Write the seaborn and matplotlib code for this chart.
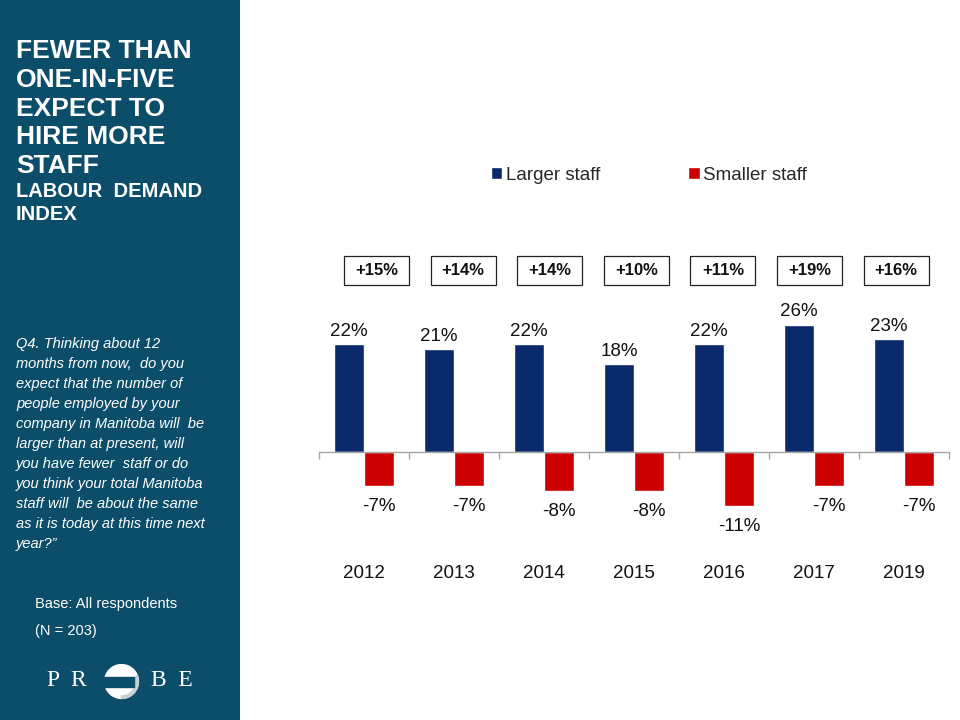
import matplotlib
matplotlib.use("Agg")
import matplotlib.pyplot as plt
import matplotlib.transforms as mtransforms
from matplotlib.patches import Rectangle, Circle, Wedge
import seaborn as sns
import pandas as pd

# ---- data ----
years = ["2012", "2013", "2014", "2015", "2016", "2017", "2019"]
larger_staff = [22, 21, 22, 18, 22, 26, 23]
smaller_staff = [-7, -7, -8, -8, -11, -7, -7]
net_labels = ["+15%", "+14%", "+14%", "+10%", "+11%", "+19%", "+16%"]
series_names = ["Larger staff", "Smaller staff"]
colors = ["#0B2A6B", "#CC0000"]

title_lines = ["FEWER THAN", "ONE-IN-FIVE", "EXPECT TO", "HIRE MORE", "STAFF"]
subtitle_lines = ["LABOUR  DEMAND", "INDEX"]
question_lines = ["Q4. Thinking about 12", "months from now,  do you",
                  "expect that the number of", "people employed by your",
                  "company in Manitoba will  be", "larger than at present, will",
                  "you have fewer  staff or do", "you think your total Manitoba",
                  "staff will  be about the same", "as it is today at this time next",
                  "year?\u201d"]

df = pd.DataFrame({
    "year": years * 2,
    "value": larger_staff + smaller_staff,
    "series": [series_names[0]] * len(years) + [series_names[1]] * len(years),
})

sns.set_theme(style="white")
plt.rcParams["font.family"] = ["Liberation Sans", "DejaVu Sans"]

W, H = 960, 720
fig = plt.figure(figsize=(9.6, 7.2), dpi=100)
fig.patch.set_facecolor("white")

# ---- left panel ----
panel_col = "#0C4E69"
fig.patches.append(Rectangle((0, 0), 240 / W, 1, transform=fig.transFigure,
                             facecolor=panel_col, edgecolor="none", zorder=-5))

for i, line in enumerate(title_lines):
    fig.text(16 / W, 1 - (58.3 + i * 28.6) / H, line, color="white", fontsize=19,
             fontweight="bold", va="baseline", ha="left")
for i, line in enumerate(subtitle_lines):
    fig.text(16 / W, 1 - (196.7 + i * 23.3) / H, line, color="white", fontsize=14.5,
             fontweight="bold", va="baseline", ha="left")
for i, line in enumerate(question_lines):
    fig.text(16 / W, 1 - (348.3 + i * 20.0) / H, line, color="white", fontsize=10.5,
             fontstyle="italic", va="baseline", ha="left")

fig.text(35 / W, 1 - 604 / H, "Base: All respondents", color="white", fontsize=10.5,
         va="center", ha="left")
fig.text(35 / W, 1 - 631 / H, "(N = 203)", color="white", fontsize=10.5,
         va="center", ha="left")

# PROBE logo
logo_y = 1 - 681 / H
fig.text(67 / W, logo_y, "P  R", color="white", fontsize=17, family="Liberation Serif",
         va="center", ha="center")
fig.text(172 / W, logo_y, "B  E", color="white", fontsize=17, family="Liberation Serif",
         va="center", ha="center")
logo_ax = fig.add_axes([103.5 / W, 1 - 699.5 / H, 36 / W, 36 / H])
logo_ax.set_xlim(-1, 1)
logo_ax.set_ylim(-1, 1)
logo_ax.set_aspect("equal")
logo_ax.axis("off")
logo_ax.set_zorder(2)
logo_ax.add_patch(Circle((0, 0), 0.94, color="white"))
logo_ax.add_patch(Wedge((0, 0), 0.94, 270, 20, width=0.14, color="#C8CED2"))
logo_ax.add_patch(Rectangle((-1, -0.28), 1.69, 0.55, color=panel_col))

# ---- chart ----
ax_left, ax_right = 319 / W, 949 / W
ax_top, ax_bot = 1 - 290 / H, 1 - 530 / H
ax = fig.add_axes([ax_left, ax_bot, ax_right - ax_left, ax_top - ax_bot])

sns.barplot(data=df, x="year", y="value", hue="series", hue_order=series_names,
            palette=colors, width=0.667, saturation=1, ax=ax, legend=True)

ax.set_xlim(-0.5, len(years) - 0.5)
ax.set_ylim(-15.9, 33.06)
ax.set_xlabel("")
ax.set_ylabel("")
ax.set_yticks([])
for s in ["top", "right", "left"]:
    ax.spines[s].set_visible(False)
ax.spines["bottom"].set_position(("data", 0))
ax.spines["bottom"].set_color("#A6A6A6")
ax.spines["bottom"].set_linewidth(1.0)
ax.set_xticks(range(len(years)))
ax.set_xticklabels(years)
ax.set_xticks([i - 0.5 for i in range(len(years) + 1)], minor=True)
ax.tick_params(axis="x", which="major", length=0, pad=81, labelsize=13.5,
               labelcolor="#111111")
ax.tick_params(axis="x", which="minor", length=5, width=1, color="#A6A6A6",
               direction="out", bottom=True)
ax.set_facecolor("none")

# data labels
for cont in ax.containers:
    vals = cont.datavalues
    if vals[0] >= 0:
        ax.bar_label(cont, labels=[f"{v:.0f}%" for v in vals], padding=3,
                     fontsize=13.5, color="#111111")
    else:
        ax.bar_label(cont, labels=[f"{v:.0f}%" for v in vals], padding=8.5,
                     fontsize=13.5, color="#111111")

# net boxes
blend = mtransforms.blended_transform_factory(ax.transData, fig.transFigure)
box_h = 29 / H
box_cy = 1 - 270.5 / H
box_w = 65 / 90
for i, lab in enumerate(net_labels):
    bx = 0.14 + i * 0.962
    ax.add_patch(Rectangle((bx - box_w / 2, box_cy - box_h / 2), box_w, box_h,
                           transform=blend, fill=False, edgecolor="#222222",
                           linewidth=0.9, clip_on=False))
    ax.text(bx, box_cy, lab, transform=blend, ha="center", va="center",
            fontsize=12, fontweight="bold", color="#111111", clip_on=False)

# legend
handles, labels = ax.get_legend_handles_labels()
ax.get_legend().remove()
fig.legend(handles, labels, loc="center", bbox_to_anchor=(649 / W, 1 - 175 / H),
           ncol=2, frameon=False, fontsize=13.5, handlelength=0.6, handleheight=0.6,
           handletextpad=0.2, columnspacing=4.7)

fig.savefig("out.png", dpi=100)
